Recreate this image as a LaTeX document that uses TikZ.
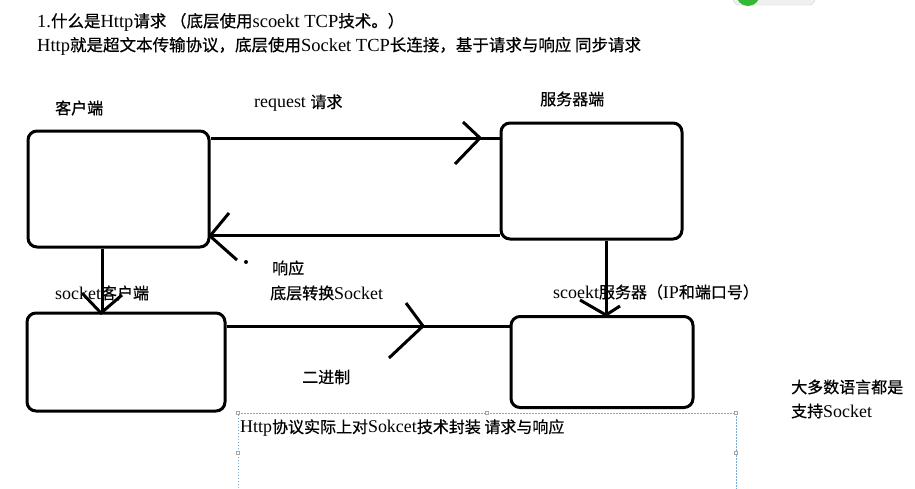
\documentclass[tikz,border=0pt]{standalone}
\usepackage{fontspec}
\setmainfont[Scale=1.12]{Liberation Serif}
\newfontfamily\cjk[FakeBold=0.6]{Noto Sans CJK SC}
\usetikzlibrary{calc}
\newcommand{\zh}[1]{{\cjk #1}}
\begin{document}
\begin{tikzpicture}[x=1pt,y=-1pt,
  boxstyle/.style={draw=black,line width=3pt,rounded corners=9pt,inner sep=0pt},
  conn/.style={draw=black,line width=3pt},
  chev/.style={draw=black,line width=3pt},
  lbl/.style={anchor=west,inner sep=0pt,font=\fontsize{16}{16}\selectfont},
  handle/.style={draw=gray!70,fill=white,line width=0.4pt,minimum size=3pt,inner sep=0pt}]
\useasboundingbox (0,0) rectangle (915,488);
% window button artefact
\fill[gray!12,draw=gray!35,rounded corners=6pt] (733,-14) rectangle (815,5);
\fill[green!65!black!80!white] (748,-6) circle (12);

% boxes
\node[boxstyle,minimum width=181pt,minimum height=116pt] (client) at (118.5,189) {};
\node[boxstyle,minimum width=181pt,minimum height=116pt] (server) at (591.5,181) {};
\node[boxstyle,minimum width=198pt,minimum height=98pt] (sclient) at (126,362) {};
\node[boxstyle,minimum width=182pt,minimum height=91pt] (sserver) at (602,362) {};

% helper coordinates
\coordinate (yreq) at (0,138);
\coordinate (yres) at (0,235);
\coordinate (ybin) at (0,326);
\coordinate (xl) at (102,0);
\coordinate (xr) at (606,0);

% request
\draw[conn] (client.east |- yreq) -- (server.west |- yreq);
\coordinate (t1) at (480,138);
\draw[chev] ($(t1)+(-17,-16)$) -- (t1) -- ($(t1)+(-25,26)$);
% response
\draw[conn] (server.west |- yres) -- (client.east |- yres);
\coordinate (t2) at (210,236);
\draw[chev] ($(t2)+(19,-23)$) -- (t2) -- ($(t2)+(27,24)$);
\fill (246,262) circle (2);
% client -> socket client
\draw[conn] (client.south -| xl) -- (sclient.north -| xl);
\coordinate (t3) at (101,313);
\draw[chev] ($(t3)+(-19,-20)$) -- (t3) -- ($(t3)+(21,-18)$);
% server -> socket server
\draw[conn] (server.south -| xr) -- (sserver.north -| xr);
\coordinate (t4) at (606,315);
\draw[chev] ($(t4)+(-26,-15)$) -- (t4) -- ($(t4)+(14,-9)$);
% binary
\draw[conn] (sclient.east |- ybin) -- (sserver.west |- ybin);
\coordinate (t5) at (423,326);
\draw[chev] ($(t5)+(-17,-23)$) -- (t5) -- ($(t5)+(-34,32)$);

% dotted selection box
\draw[draw={rgb,255:red,120;green,170;blue,210},dash pattern=on 1.5pt off 1.5pt,line width=0.6pt]
  (238,500) -- (238,413) -- (736,413) -- (736,500);
\foreach \p/\n in {{(238,413)}/h1,{(487,413)}/h2,{(736,413)}/h3,{(238,453)}/h4,{(736,453)}/h5}
  \node[handle] (\n) at \p {};

% texts
\node[lbl,font=\fontsize{16.5}{16.5}\selectfont] (title1) at (37,22) {1.\zh{什么是}Http\zh{请求 （底层使用}scoekt TCP\zh{技术。）}};
\node[lbl,font=\fontsize{16.5}{16.5}\selectfont] (title2) at (37,46) {Http\zh{就是超文本传输协议，底层使用}Socket TCP\zh{长连接，基于请求与响应 同步请求}};
\node[lbl] (lclient) at (55,108) {\zh{客户端}};
\node[lbl] (lreq) at (254,103) {request \zh{请求}};
\node[lbl] (lserver) at (540,99) {\zh{服务器端}};
\node[lbl] (lres) at (272,268) {\zh{响应}};
\node[lbl] (lconv) at (270,293) {\zh{底层转换}Socket};
\node[lbl] (lsclient) at (55,293) {socket\zh{客户端}};
\node[lbl] (lsserver) at (553,292) {scoekt\zh{服务器（}IP\zh{和端口号）}};
\node[lbl] (lbin) at (302,377) {\zh{二进制}};
\node[lbl] (llang1) at (791,387) {\zh{大多数语言都是}};
\node[lbl] (llang2) at (791,411) {\zh{支持}Socket};
\node[lbl] (lwrap) at (240,428) {Http\zh{协议实际上对}Sokcet\zh{技术封装 请求与响应}};
\end{tikzpicture}
\end{document}
